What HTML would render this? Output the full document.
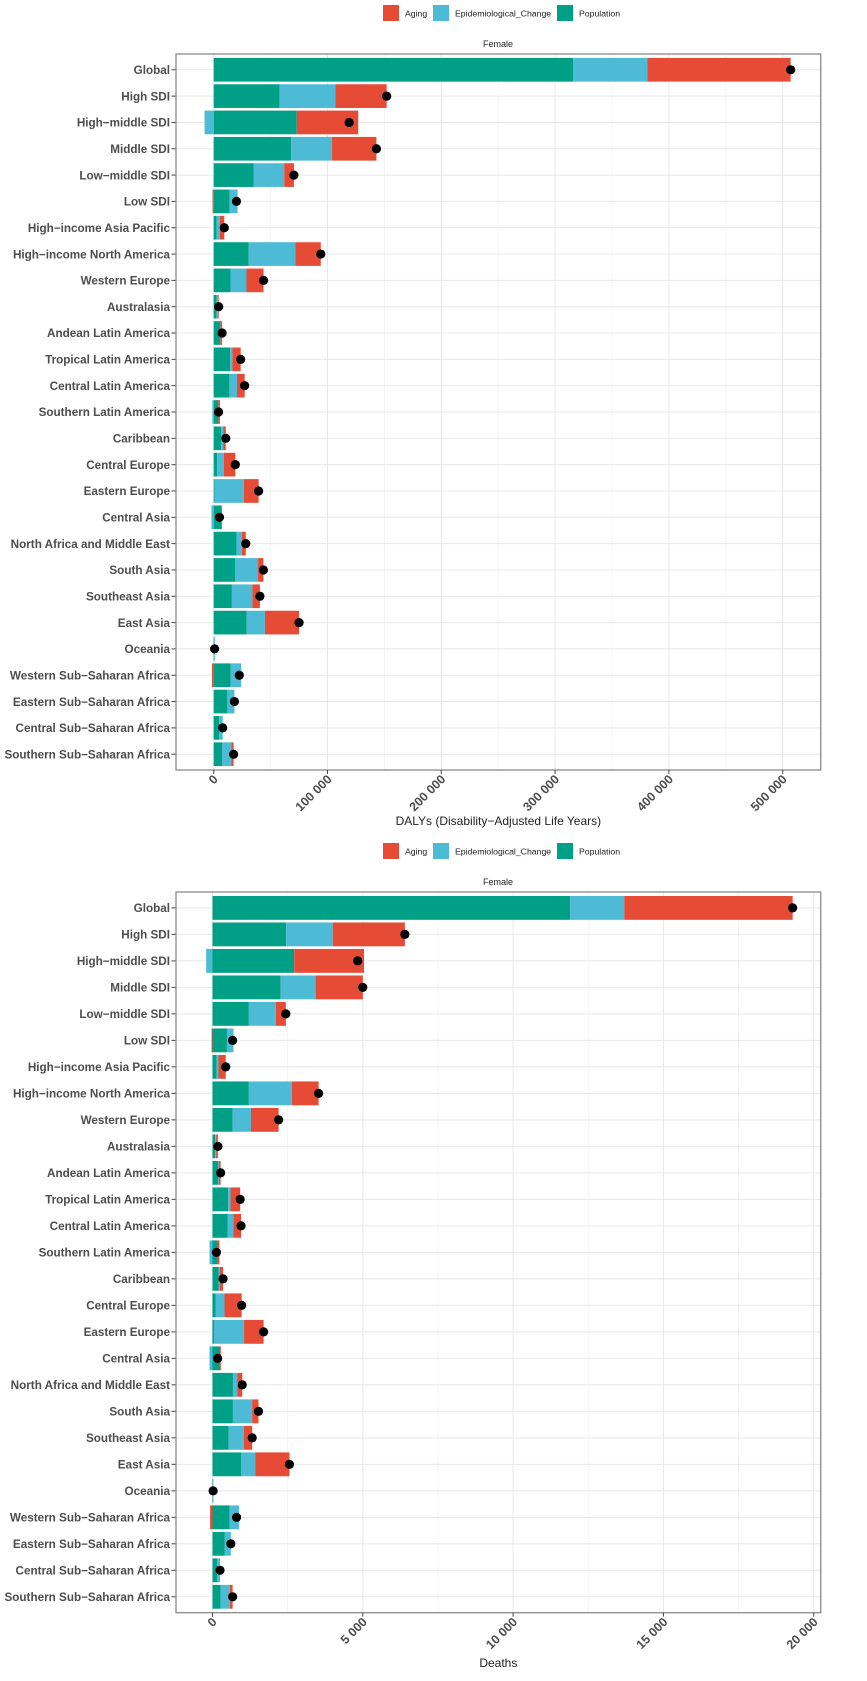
<!DOCTYPE html>
<html><head><meta charset="utf-8"><style>
html,body{margin:0;padding:0;background:#fff;}
svg{display:block;font-family:"Liberation Sans",Arial,sans-serif;}
</style></head><body>
<svg id="c" width="867" height="1681" viewBox="0 0 867 1681"></svg>
<script>
const categories=["Global","High SDI","High\u2212middle SDI","Middle SDI","Low\u2212middle SDI","Low SDI","High\u2212income Asia Pacific","High\u2212income North America","Western Europe","Australasia","Andean Latin America","Tropical Latin America","Central Latin America","Southern Latin America","Caribbean","Central Europe","Eastern Europe","Central Asia","North Africa and Middle East","South Asia","Southeast Asia","East Asia","Oceania","Western Sub\u2212Saharan Africa","Eastern Sub\u2212Saharan Africa","Central Sub\u2212Saharan Africa","Southern Sub\u2212Saharan Africa"];
const dalyPopulation=[316000,58000,73000,68000,35000,14000,2600,30800,15000,2600,5600,14400,13800,4000,6600,3000,500,6600,20000,19000,16000,29000,800,15000,12000,4700,7300];
const dalyEpi=[65000,49000,-8000,36000,27000,7000,2900,41000,13800,900,300,2000,6700,-1200,2000,6000,26000,-2000,4700,20000,18000,16000,0,9000,6200,3200,8200];
const dalyAging=[126000,45000,54000,39000,8500,-1000,3800,22300,15000,900,1500,7300,6700,1500,2000,10000,13000,500,3500,4700,6600,30000,0,-1500,0,0,2000];
const dalyTicks=[0,100000,200000,300000,400000,500000];
const dalyTickLabels=["0","100 000","200 000","300 000","400 000","500 000"];
const deathPopulation=[11900,2450,2720,2270,1210,480,140,1210,670,90,190,520,500,180,200,100,50,250,680,680,540,960,20,570,410,160,270];
const deathEpi=[1800,1550,-210,1160,900,220,60,1430,610,30,20,80,200,-100,50,300,1000,-100,140,640,500,460,0,310,200,90,310];
const deathAging=[5600,2400,2320,1570,330,-30,240,890,920,60,60,320,250,50,100,570,650,20,170,210,280,1140,0,-80,0,0,90];
const deathTicks=[0,5000,10000,15000,20000];
const deathTickLabels=["0","5 000","10 000","15 000","20 000"];
const COLORS={Aging:"#E64B35",Epi:"#4DBBD5",Pop:"#00A087"};
const NS="http://www.w3.org/2000/svg";
const svg=document.getElementById('c');
function mk(tag,attrs,parent,txt){const e=document.createElementNS(NS,tag);for(const k in attrs)e.setAttribute(k,attrs[k]);if(txt!==undefined)e.textContent=txt;(parent||svg).appendChild(e);return e;}

function legend(y,prefix){
  const g=mk('g',{});
  
  
  const items=[["Aging",COLORS.Aging,383,405],["Epidemiological_Change",COLORS.Epi,433,455],["Population",COLORS.Pop,557,579]];
  items.forEach(it=>{
    const r=mk('rect',{x:it[2],y:y-8,width:16,height:16,fill:it[1]},g);
    
    
    const t=mk('text',{x:it[3],y:y+3.3,'font-size':8.7,fill:'#222'},g,it[0]);
    
    
  });
}

function chart(o){
  const L=176,R=820.7,T=o.top,B=o.bottom;
  const n=categories.length;
  const step=(B-T)/(n-1+1.2);
  const yOf=i=>T+step*(0.6+i);
  const xOf=v=>o.zero+v*o.pxPer;
  const g=mk('g',{});
  
  
  legend(o.legendY,o.name);
  const st=mk('text',{x:498,y:T-7,'font-size':9,'text-anchor':'middle',fill:'#222'},g,'Female');
  
  
  for(let k=0;k<o.ticks.length;k++){
    const mv=o.ticks[k]+(o.ticks[1]-o.ticks[0])/2;
    const mx=xOf(mv); if(mx<R) mk('line',{x1:mx,x2:mx,y1:T,y2:B,stroke:'#f2f2f2','stroke-width':0.8},g);
  }
  o.ticks.forEach(v=>{const x=xOf(v);mk('line',{x1:x,x2:x,y1:T,y2:B,stroke:'#e8e8e8','stroke-width':1},g);});
  categories.forEach((c,i)=>{const y=yOf(i);mk('line',{x1:L,x2:R,y1:y,y2:y,stroke:'#e8e8e8','stroke-width':1},g);});
  const bh=step*0.9;
  categories.forEach((c,i)=>{
    const y=yOf(i);
    const segs=[["Pop",o.pop[i]],["Epi",o.epi[i]],["Aging",o.aging[i]]];
    let pos=0,neg=0;
    segs.forEach(s=>{
      const v=s[1]; if(v===0)return;
      let a,b;
      if(v>0){a=pos;b=pos+v;pos=b;}else{a=neg+v;b=neg;neg=a;}
      const r=mk('rect',{x:xOf(a),y:y-bh/2,width:Math.max(0.8,xOf(b)-xOf(a)),height:bh,fill:COLORS[s[0]]},g);
      
      
    });
    const tot=o.pop[i]+o.epi[i]+o.aging[i];
    const d=mk('circle',{cx:xOf(tot),cy:y,r:4.6,fill:'#000'},g);
    
    
    mk('line',{x1:171.5,x2:176,y1:y,y2:y,stroke:'#444','stroke-width':1},g);
    const t=mk('text',{x:170,y:y+4.2,'font-size':11.7,'font-weight':'bold','text-anchor':'end',fill:'#4d4d4d'},g,c);
    
    
  });
  const fr=mk('rect',{x:L,y:T,width:R-L,height:B-T,fill:'none',stroke:'#8a8a8a','stroke-width':1.3},g);
  
  
  o.ticks.forEach((v,k)=>{
    const x=xOf(v);
    mk('line',{x1:x,x2:x,y1:B,y2:B+4,stroke:'#444','stroke-width':1},g);
    const t=mk('text',{x:x+5,y:B+10,'font-size':12.5,'font-weight':'bold','text-anchor':'end',fill:'#4d4d4d',transform:`rotate(-45 ${x+5} ${B+10})`},g,o.tickLabels[k]);
    
    
  });
  const at=mk('text',{x:(L+R)/2,y:o.titleY,'font-size':12,'text-anchor':'middle',fill:'#222'},g,o.title);
  
  
}
chart({name:'dalys-chart',top:54,bottom:770,zero:213.7,pxPer:113.8/100000,ticks:dalyTicks,tickLabels:dalyTickLabels,pop:dalyPopulation,epi:dalyEpi,aging:dalyAging,legendY:13,title:'DALYs (Disability\u2212Adjusted Life Years)',titleY:825});
chart({name:'deaths-chart',top:892,bottom:1612.7,zero:212.5,pxPer:150.3/5000,ticks:deathTicks,tickLabels:deathTickLabels,pop:deathPopulation,epi:deathEpi,aging:deathAging,legendY:851,title:'Deaths',titleY:1667});
</script>
</body></html>
